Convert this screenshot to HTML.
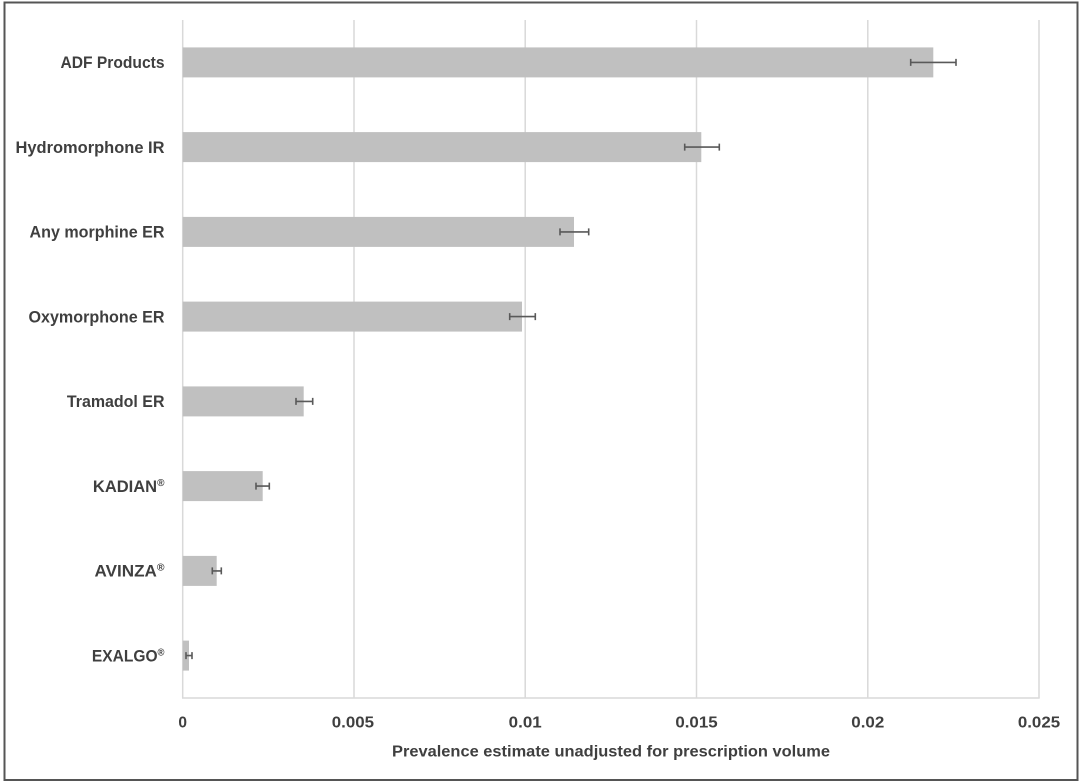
<!DOCTYPE html>
<html>
<head>
<meta charset="utf-8">
<style>
  html, body { margin: 0; padding: 0; background: #ffffff; }
  svg { display: block; }
  text { font-family: "Liberation Sans", "DejaVu Sans", sans-serif; font-weight: bold; fill: #3f3f3f; }
</style>
</head>
<body>
<svg width="1080" height="783" viewBox="0 0 1080 783" xmlns="http://www.w3.org/2000/svg">
  <rect x="0" y="0" width="1080" height="783" fill="#ffffff"/>
  <!-- outer border -->
  <rect x="4.5" y="2.5" width="1073" height="777.5" fill="none" stroke="#555555" stroke-width="2"/>

  <!-- gridlines -->
  <g stroke="#d9d9d9" stroke-width="1.5">
    <line x1="182.7" y1="20" x2="182.7" y2="698"/>
    <line x1="354" y1="20" x2="354" y2="698"/>
    <line x1="525.2" y1="20" x2="525.2" y2="698"/>
    <line x1="696.5" y1="20" x2="696.5" y2="698"/>
    <line x1="867.8" y1="20" x2="867.8" y2="698"/>
    <line x1="1039" y1="20" x2="1039" y2="698"/>
    <line x1="182" y1="698" x2="1039.7" y2="698"/>
  </g>

  <!-- bars -->
  <g fill="#c0c0c0">
    <rect x="182.7" y="47.4" width="750.6" height="30"/>
    <rect x="182.7" y="132.1" width="518.6" height="30"/>
    <rect x="182.7" y="216.9" width="391.3" height="30"/>
    <rect x="182.7" y="301.6" width="339.3" height="30"/>
    <rect x="182.7" y="386.4" width="121" height="30"/>
    <rect x="182.7" y="471.1" width="80" height="30"/>
    <rect x="182.7" y="555.9" width="34" height="30"/>
    <rect x="182.7" y="640.6" width="6.3" height="30"/>
  </g>

  <!-- error bars -->
  <g stroke="#595959" stroke-width="1.6" fill="none">
    <path d="M910.7 62.4H956 M910.7 58.9V65.9 M956 58.9V65.9"/>
    <path d="M684.7 147.1H719.3 M684.7 143.6V150.6 M719.3 143.6V150.6"/>
    <path d="M560 231.9H588.7 M560 228.4V235.4 M588.7 228.4V235.4"/>
    <path d="M509.7 316.6H535.3 M509.7 313.1V320.1 M535.3 313.1V320.1"/>
    <path d="M296 401.4H312.7 M296 397.9V404.9 M312.7 397.9V404.9"/>
    <path d="M256 486.1H269.3 M256 482.6V489.6 M269.3 482.6V489.6"/>
    <path d="M212.3 570.9H221.3 M212.3 567.4V574.4 M221.3 567.4V574.4"/>
    <path d="M186 655.6H192 M186 652.1V659.1 M192 652.1V659.1"/>
  </g>

  <!-- category labels -->
  <g font-size="16.5" text-anchor="end">
    <text x="164.5" y="68.2" textLength="104" lengthAdjust="spacingAndGlyphs">ADF Products</text>
    <text x="164.5" y="152.9" textLength="149" lengthAdjust="spacingAndGlyphs">Hydromorphone IR</text>
    <text x="164.5" y="237.7" textLength="135" lengthAdjust="spacingAndGlyphs">Any morphine ER</text>
    <text x="164.5" y="322.4" textLength="136" lengthAdjust="spacingAndGlyphs">Oxymorphone ER</text>
    <text x="164.5" y="407.2" textLength="97.6" lengthAdjust="spacingAndGlyphs">Tramadol ER</text>
    <text x="164.5" y="491.9" textLength="71.6" lengthAdjust="spacingAndGlyphs">KADIAN<tspan font-size="10" dy="-6">®</tspan></text>
    <text x="164.5" y="576.7" textLength="70" lengthAdjust="spacingAndGlyphs">AVINZA<tspan font-size="10" dy="-6">®</tspan></text>
    <text x="164.5" y="661.4" textLength="72.6" lengthAdjust="spacingAndGlyphs">EXALGO<tspan font-size="10" dy="-6">®</tspan></text>
  </g>

  <!-- x tick labels -->
  <g font-size="15.5" text-anchor="middle">
    <text x="182.7" y="727.5">0</text>
    <text x="352.9" y="727.5" textLength="42.3" lengthAdjust="spacingAndGlyphs">0.005</text>
    <text x="525.2" y="727.5" textLength="33" lengthAdjust="spacingAndGlyphs">0.01</text>
    <text x="696.5" y="727.5" textLength="42.3" lengthAdjust="spacingAndGlyphs">0.015</text>
    <text x="867.8" y="727.5" textLength="33" lengthAdjust="spacingAndGlyphs">0.02</text>
    <text x="1039" y="727.5" textLength="42.3" lengthAdjust="spacingAndGlyphs">0.025</text>
  </g>

  <!-- x axis title -->
  <text x="611" y="756.5" font-size="16" text-anchor="middle" textLength="438" lengthAdjust="spacingAndGlyphs">Prevalence estimate unadjusted for prescription volume</text>
</svg>
</body>
</html>
